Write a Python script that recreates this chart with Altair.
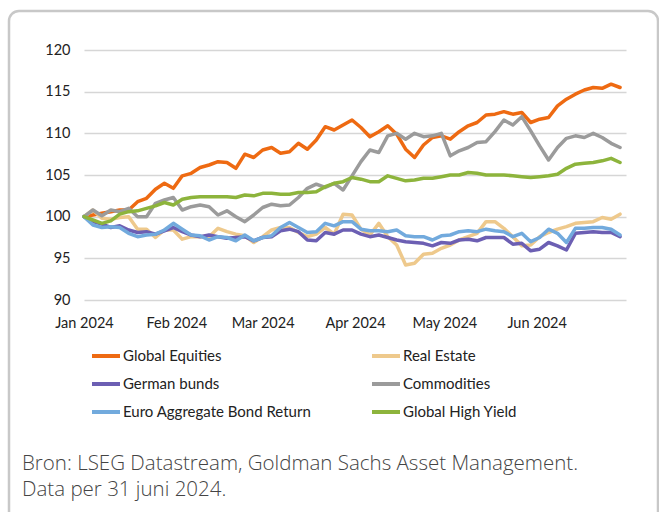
import altair as alt
import pandas as pd

# ---- data ----
dates = pd.date_range("2024-01-01", periods=61, freq="3D")

series_names = ["Global Equities", "Real Estate", "German bunds",
                "Commodities", "Euro Aggregate Bond Return", "Global High Yield"]
series_colors = ["#EE6A12", "#EEC98C", "#6C5FB3", "#9B9B9B", "#72AADD", "#8DB43C"]

global_equities = [100.0, 100.2, 100.4, 100.6, 100.8, 100.8, 101.8, 102.2, 103.3, 104.0,
                   103.4, 104.9, 105.2, 105.9, 106.2, 106.6, 106.5, 105.8, 107.5, 107.1,
                   108.0, 108.3, 107.6, 107.8, 108.8, 108.1, 109.2, 110.8, 110.4, 111.0,
                   111.6, 110.7, 109.6, 110.2, 110.9, 109.9, 108.1, 107.1, 108.6, 109.5,
                   109.7, 109.3, 110.2, 110.9, 111.3, 112.2, 112.3, 112.6, 112.3, 112.5,
                   111.3, 111.7, 111.9, 113.3, 114.1, 114.7, 115.2, 115.5, 115.4, 115.9,
                   115.5]
real_estate = [100.0, 100.8, 99.8, 99.7, 99.9, 100.0, 98.5, 98.5, 97.5, 98.4,
               98.4, 97.3, 97.6, 97.6, 97.6, 98.6, 98.2, 97.9, 97.7, 96.9,
               97.6, 98.4, 98.7, 98.7, 98.1, 97.6, 97.9, 98.7, 97.9, 100.3,
               100.2, 98.5, 97.8, 99.2, 97.6, 96.6, 94.2, 94.4, 95.5, 95.6,
               96.2, 96.6, 97.2, 97.6, 98.0, 99.4, 99.4, 98.6, 97.6, 96.5,
               96.6, 97.6, 98.1, 98.5, 98.8, 99.2, 99.3, 99.4, 99.9, 99.7,
               100.3]
german_bunds = [100.0, 99.4, 99.1, 98.7, 98.9, 98.4, 98.1, 98.2, 97.9, 98.3,
                98.7, 98.2, 97.8, 97.6, 97.8, 97.6, 97.4, 97.5, 97.6, 97.1,
                97.5, 97.6, 98.3, 98.5, 98.2, 97.2, 97.1, 98.1, 97.9, 98.4,
                98.4, 97.9, 97.6, 97.8, 97.5, 97.2, 97.0, 96.9, 96.8, 96.5,
                96.9, 96.8, 97.2, 97.3, 97.1, 97.5, 97.5, 97.5, 96.7, 96.8,
                95.9, 96.1, 96.9, 96.5, 96.0, 98.0, 98.1, 98.2, 98.1, 98.1,
                97.6]
commodities = [100.0, 100.8, 100.1, 100.8, 100.6, 101.0, 100.0, 100.0, 101.6, 102.0,
               102.3, 100.8, 101.2, 101.4, 101.2, 100.2, 100.7, 100.0, 99.4, 100.2,
               101.1, 101.5, 101.3, 101.4, 102.3, 103.4, 103.9, 103.5, 104.0, 103.2,
               104.9, 106.6, 108.0, 107.7, 109.7, 110.0, 109.3, 110.0, 109.6, 109.7,
               110.0, 107.3, 107.9, 108.3, 108.9, 109.0, 110.2, 111.6, 111.0, 112.0,
               110.3, 108.5, 106.8, 108.3, 109.4, 109.7, 109.5, 110.0, 109.5, 108.8,
               108.3]
euro_aggregate = [100.0, 99.0, 98.7, 98.8, 98.7, 98.0, 97.6, 97.8, 97.9, 98.4,
                  99.2, 98.5, 97.8, 97.7, 97.2, 97.6, 97.5, 97.1, 97.8, 97.1,
                  97.5, 97.7, 98.7, 99.3, 98.7, 98.1, 98.2, 99.2, 98.9, 99.4,
                  99.4, 98.5, 98.3, 98.3, 98.2, 98.4, 97.7, 97.6, 97.6, 97.2,
                  97.7, 97.8, 98.2, 98.3, 98.2, 98.5, 98.3, 98.2, 97.6, 98.0,
                  97.0, 97.5, 98.5, 98.0, 96.9, 98.6, 98.6, 98.7, 98.7, 98.5,
                  97.8]
global_high_yield = [100.0, 99.6, 99.2, 99.5, 100.3, 100.6, 100.7, 101.0, 101.3, 101.7,
                     101.4, 102.1, 102.3, 102.4, 102.4, 102.4, 102.4, 102.3, 102.6, 102.5,
                     102.8, 102.8, 102.7, 102.7, 102.9, 102.9, 103.0, 103.6, 104.0, 104.2,
                     104.7, 104.5, 104.2, 104.2, 104.9, 104.6, 104.3, 104.4, 104.6, 104.6,
                     104.8, 105.0, 105.0, 105.3, 105.2, 105.0, 105.0, 105.0, 104.9, 104.8,
                     104.7, 104.8, 104.9, 105.1, 105.8, 106.3, 106.4, 106.5, 106.7, 107.0,
                     106.5]

y_ticks = [90, 95, 100, 105, 110, 115, 120]
source_lines = ["Bron: LSEG Datastream, Goldman Sachs Asset Management.",
                "Data per 31 juni 2024."]

all_values = [global_equities, real_estate, german_bunds,
              commodities, euro_aggregate, global_high_yield]
rows = []
for name, vals in zip(series_names, all_values):
    for d, v in zip(dates, vals):
        rows.append({"date": d, "series": name, "value": v})
df = pd.DataFrame(rows)

FONT = "Lato"
SRC_FONT = "Open Sans"
W, H = 542, 250
PAD = {"left": 84, "top": 50, "right": 659 - 84 - W, "bottom": 512 - 50 - H}

month_ticks = [alt.DateTime(year=2024, month=m, date=1) for m in range(1, 7)]

lines = alt.Chart(df).mark_line(strokeWidth=3.5, strokeJoin="round", strokeCap="round").encode(
    x=alt.X("date:T",
            scale=alt.Scale(domain=[alt.DateTime(year=2024, month=1, date=1),
                                    alt.DateTime(year=2024, month=7, date=1)]),
            axis=alt.Axis(values=month_ticks, format="%b %Y", title=None, grid=False,
                          ticks=False, domain=False, labelPadding=16, labelFontSize=14.5,
                          labelFont=FONT, labelColor="#222222", labelOverlap=False,
                          labelFlush=False, labelAlign="center")),
    y=alt.Y("value:Q", scale=alt.Scale(domain=[90, 120], nice=False, zero=False),
            axis=alt.Axis(values=y_ticks, title=None, grid=True, gridColor="#d6d6d6",
                          gridWidth=1.6, ticks=False, domain=False, labelPadding=14,
                          labelFontSize=14.5, labelFont=FONT, labelColor="#222222")),
    color=alt.Color("series:N",
                    scale=alt.Scale(domain=series_names, range=series_colors),
                    legend=alt.Legend(orient="none", legendX=6, legendY=290, columns=2,
                                      direction="horizontal",
                                      symbolType="stroke", symbolStrokeWidth=4,
                                      symbolSize=784, labelFontSize=15, labelFont=FONT,
                                      labelColor="#222222", labelOffset=1,
                                      columnPadding=52, rowPadding=4, title=None,
                                      labelLimit=400)),
)

one = pd.DataFrame({"k": [0]})
border = alt.Chart(one).mark_rect(fill="transparent", stroke="#c8c8c8", strokeWidth=2.5,
                                  cornerRadius=10).encode(
    x=alt.value(-75), x2=alt.value(574), y=alt.value(-39), y2=alt.value(480))

src1 = alt.Chart(one).mark_text(align="left", baseline="middle", font=SRC_FONT, fontSize=20.5,
                                fontWeight=300, color="#444444").encode(
    x=alt.value(-62), y=alt.value(414), text=alt.value(source_lines[0]))
src2 = alt.Chart(one).mark_text(align="left", baseline="middle", font=SRC_FONT, fontSize=20.5,
                                fontWeight=300, color="#444444").encode(
    x=alt.value(-62), y=alt.value(440), text=alt.value(source_lines[1]))

chart = alt.layer(border, lines, src1, src2).properties(
    width=W, height=H, padding=PAD, autosize=alt.AutoSizeParams(type="none"),
    background="white"
).configure_view(stroke=None)

chart.save("out.html", embed_options={"renderer": "svg", "actions": False})
